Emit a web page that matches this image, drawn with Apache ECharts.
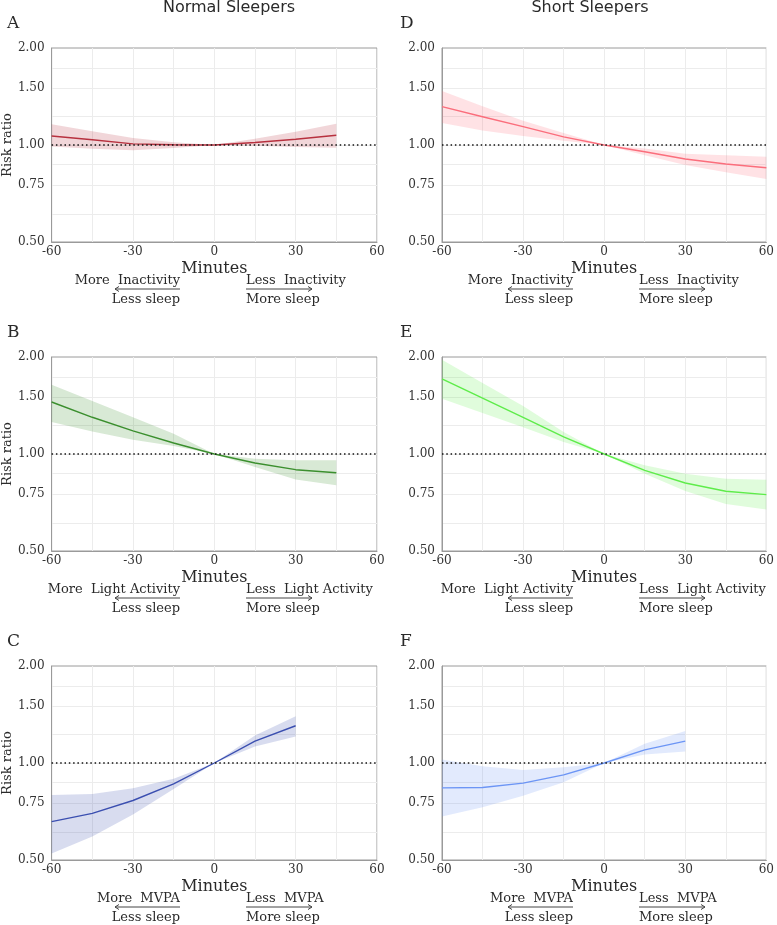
<!DOCTYPE html>
<html>
<head>
<meta charset="utf-8">
<script src="https://cdn.jsdelivr.net/npm/echarts@6/dist/echarts.min.js"></script>
<style>
  html, body { margin: 0; padding: 0; background: #fff; }
  #chart { width: 777px; height: 925px; }
</style>
</head>
<body>
<div id="chart"></div>
<script>
var minutes = [-60, -45, -30, -15, 0, 15, 30, 45, 60];
var yTicks = [0.5, 0.75, 1, 1.5, 2];
var yMinor = [0.612, 0.866, 1.225, 1.732];
var groups = ['Normal Sleepers', 'Short Sleepers'];
var activities = ['Inactivity', 'Light Activity', 'MVPA'];

// normal sleepers
var rrA = [1.066, 1.038, 1.008, 1.002, 1.0, 1.018, 1.042, 1.072];
var upA = [1.16, 1.103, 1.051, 1.019, 1.0, 1.045, 1.10, 1.165];
var loA = [0.99, 0.974, 0.963, 0.979, 1.0, 0.995, 0.985, 0.98];
var rrB = [1.45, 1.30, 1.18, 1.082, 1.0, 0.938, 0.894, 0.875];
var upB = [1.64, 1.46, 1.30, 1.156, 1.0, 0.967, 0.956, 0.956];
var loB = [1.257, 1.175, 1.108, 1.058, 1.0, 0.911, 0.834, 0.80];
var rrC = [0.658, 0.698, 0.765, 0.862, 1.0, 1.169, 1.305];
var upC = [0.796, 0.802, 0.835, 0.893, 1.0, 1.218, 1.396];
var loC = [0.524, 0.591, 0.692, 0.831, 1.0, 1.125, 1.209];
// short sleepers
var rrD = [1.315, 1.224, 1.14, 1.06, 1.0, 0.953, 0.905, 0.873, 0.85];
var upD = [1.47, 1.32, 1.19, 1.09, 1.0, 0.976, 0.94, 0.93, 0.92];
var loD = [1.17, 1.11, 1.066, 1.03, 1.0, 0.93, 0.867, 0.823, 0.784];
var rrE = [1.71, 1.49, 1.30, 1.13, 1.0, 0.89, 0.813, 0.766, 0.748];
var upE = [1.96, 1.66, 1.41, 1.17, 1.0, 0.922, 0.869, 0.838, 0.832];
var loE = [1.485, 1.34, 1.21, 1.09, 1.0, 0.869, 0.768, 0.70, 0.673];
var rrF = [0.837, 0.839, 0.866, 0.919, 1.0, 1.098, 1.169];
var upF = [1.025, 0.977, 0.952, 0.970, 1.0, 1.147, 1.256];
var loF = [0.682, 0.729, 0.792, 0.872, 1.0, 1.063, 1.086];

var panels = [
  {letter: 'A', col: 0, row: 0, rr: rrA, up: upA, lo: loA, line: '#b7313f', band: 'rgba(183,49,63,0.2)'},
  {letter: 'B', col: 0, row: 1, rr: rrB, up: upB, lo: loB, line: '#3b8f2e', band: 'rgba(59,143,46,0.2)'},
  {letter: 'C', col: 0, row: 2, rr: rrC, up: upC, lo: loC, line: '#3b4fb0', band: 'rgba(59,79,176,0.2)'},
  {letter: 'D', col: 1, row: 0, rr: rrD, up: upD, lo: loD, line: '#fb6e7c', band: 'rgba(255,110,125,0.2)'},
  {letter: 'E', col: 1, row: 1, rr: rrE, up: upE, lo: loE, line: '#5eec4a', band: 'rgba(100,240,80,0.2)'},
  {letter: 'F', col: 1, row: 2, rr: rrF, up: upF, lo: loF, line: '#6c95f5', band: 'rgba(108,149,245,0.2)'}
];

var colLeft = [49, 442];
var rowTop = [48, 357, 666];
var W = 328, H = 194;
var serif = '"DejaVu Serif"';
var txt = '#2a2a2a';

var grids = [], xAxes = [], yAxes = [], series = [], graphics = [];

function label(x, y, text, align, size) {
  return {type: 'text', x: x, y: y, style: {text: text, font: size + 'px ' + serif,
    fill: txt, align: align, verticalAlign: 'middle'}};
}

panels.forEach(function (p, i) {
  var left = colLeft[p.col], top = rowTop[p.row];
  grids.push({left: left, top: top, width: W, height: H, show: true, borderColor: '#9a9a9a', borderWidth: 1});
  xAxes.push({
    gridIndex: i, type: 'value', min: -60, max: 60, interval: 30,
    name: 'Minutes', nameLocation: 'middle', nameGap: 19,
    nameTextStyle: {fontFamily: 'DejaVu Serif', fontSize: 16, color: txt},
    axisLine: {onZero: false, lineStyle: {color: '#9a9a9a'}},
    axisTick: {show: false},
    axisLabel: {fontFamily: 'DejaVu Serif', fontSize: 12, color: '#333', margin: 4},
    splitLine: {lineStyle: {color: '#ececec'}},
    minorTick: {show: false, splitNumber: 2},
    minorSplitLine: {show: true, lineStyle: {color: '#ececec'}}
  });
  yAxes.push({
    gridIndex: i, type: 'log', logBase: 10, min: 0.5, max: 2,
    name: p.col === 0 ? 'Risk ratio' : '', nameLocation: 'middle', nameGap: 34,
    nameTextStyle: {fontFamily: 'DejaVu Serif', fontSize: 13, color: txt},
    axisLine: {show: true, onZero: false, lineStyle: {color: '#9a9a9a'}},
    axisTick: {show: false, customValues: yTicks},
    axisLabel: {
      customValues: yTicks, fontFamily: 'DejaVu Serif', fontSize: 12, color: '#333', margin: 7,
      formatter: function (v) { return Number(v).toFixed(2); }
    },
    splitLine: {show: false}
  });

  var n = p.rr.length;
  var xs = minutes.slice(0, n);
  series.push({
    type: 'custom', xAxisIndex: i, yAxisIndex: i, silent: true, z: 1,
    data: xs.map(function (m, k) { return [m, p.lo[k], p.up[k]]; }),
    encode: {x: 0, y: [1, 2]},
    renderItem: function (params, api) {
      if (params.dataIndex !== 0) return null;
      var pts = [];
      for (var k = 0; k < n; k++) pts.push(api.coord([xs[k], p.up[k]]));
      for (var k2 = n - 1; k2 >= 0; k2--) pts.push(api.coord([xs[k2], p.lo[k2]]));
      return {type: 'polygon', shape: {points: pts}, style: {fill: p.band}};
    },
    // horizontal grid lines (major + in-between)
    markLine: {
      silent: true, symbol: 'none', label: {show: false}, z: 0,
      lineStyle: {color: '#ececec', type: 'solid', width: 1},
      data: yTicks.slice(1, 4).concat(yMinor).map(function (v) { return {yAxis: v}; })
    }
  });
  series.push({
    type: 'line', xAxisIndex: i, yAxisIndex: i, z: 3,
    data: xs.map(function (m, k) { return [m, p.rr[k]]; }),
    showSymbol: false, symbol: 'none',
    lineStyle: {color: p.line, width: 1.4},
    markLine: {
      silent: true, symbol: 'none', label: {show: false},
      lineStyle: {color: '#111', type: [1.5, 2.8], width: 1.5},
      data: [{yAxis: 1}]
    }
  });

  // panel letter
  graphics.push({type: 'text', x: left - 42, y: top - 24,
    style: {text: p.letter, font: '17px ' + serif, fill: txt, verticalAlign: 'middle'}});

  // direction annotations
  var dx = left - 49, b = top + H;
  var act = activities[p.row];
  graphics.push(label(180 + dx, b + 39, 'More  ' + act, 'right', 13));
  graphics.push(label(180 + dx, b + 58, 'Less sleep', 'right', 13));
  graphics.push(label(246 + dx, b + 39, 'Less  ' + act, 'left', 13));
  graphics.push(label(246 + dx, b + 58, 'More sleep', 'left', 13));
  var ay = b + 47;
  var arr = {stroke: '#444', lineWidth: 1, fill: 'none'};
  graphics.push({type: 'line', shape: {x1: 115 + dx, y1: ay, x2: 180 + dx, y2: ay}, style: arr});
  graphics.push({type: 'polyline', shape: {points: [[119 + dx, ay - 2.5], [115 + dx, ay], [119 + dx, ay + 2.5]]}, style: arr});
  graphics.push({type: 'line', shape: {x1: 246 + dx, y1: ay, x2: 312 + dx, y2: ay}, style: arr});
  graphics.push({type: 'polyline', shape: {points: [[308 + dx, ay - 2.5], [312 + dx, ay], [308 + dx, ay + 2.5]]}, style: arr});
});

// column titles
graphics.push({type: 'text', x: 229, y: 8,
  style: {text: groups[0], font: '16px "DejaVu Sans"', fill: txt, align: 'center', verticalAlign: 'middle'}});
graphics.push({type: 'text', x: 590, y: 8,
  style: {text: groups[1], font: '16px "DejaVu Sans"', fill: txt, align: 'center', verticalAlign: 'middle'}});

var chart = echarts.init(document.getElementById('chart'));
chart.setOption({
  animation: false,
  backgroundColor: '#fff',
  grid: grids,
  xAxis: xAxes,
  yAxis: yAxes,
  series: series,
  graphic: graphics
});
</script>
</body>
</html>
